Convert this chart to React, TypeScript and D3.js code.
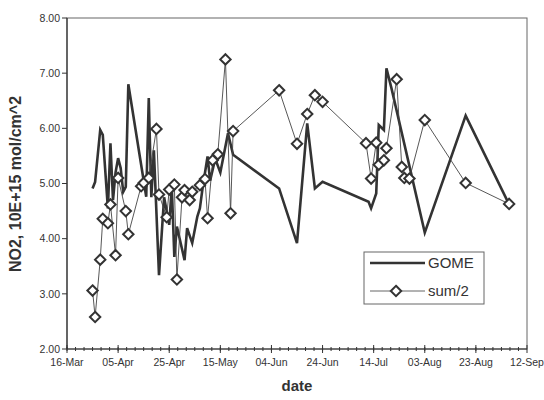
import React, { useEffect, useRef } from 'react'
import * as d3 from 'd3'

// values
const gomeDates = [
  '03-26', '03-27', '03-29', '03-30', '04-01', '04-02', '04-03', '04-04', '04-05', '04-06',
  '04-07', '04-08', '04-09', '04-16', '04-17', '04-18', '04-19', '04-21', '04-23', '04-25',
  '04-26', '04-27', '04-28', '05-01', '05-02', '05-04', '05-06', '05-07', '05-08', '05-10',
  '05-11', '05-13', '05-15', '05-18', '05-20', '06-07', '06-14', '06-18', '06-21', '06-24',
  '07-12', '07-13', '07-15', '07-16', '07-18', '07-19', '07-21', '08-03', '08-19', '09-05'
]
const gomeValues = [
  4.91, 5.03, 5.97, 5.88, 4.55, 5.73, 4.70, 5.20, 5.46, 5.28,
  4.85, 4.94, 6.80, 4.76, 6.55, 4.75, 5.60, 3.34, 4.75, 4.25,
  4.95, 3.67, 4.22, 3.61, 4.19, 3.92, 4.40, 4.55, 4.90, 5.49,
  5.05, 5.45, 5.20, 5.91, 5.52, 4.91, 3.92, 6.09, 4.91, 5.03,
  4.67, 4.55, 4.82, 6.06, 5.97, 7.09, 6.72, 4.11, 6.23, 4.62
]

const sumDates = [
  '03-26', '03-27', '03-29', '03-30', '04-01', '04-02', '04-04', '04-05', '04-08', '04-09',
  '04-14', '04-15', '04-17', '04-20', '04-21', '04-24', '04-25', '04-27', '04-28', '04-30',
  '05-01', '05-03', '05-04', '05-07', '05-09', '05-10', '05-12', '05-14', '05-17', '05-19',
  '05-20', '06-07', '06-14', '06-18', '06-21', '06-24', '07-11', '07-13', '07-15', '07-16',
  '07-18', '07-19', '07-23', '07-25', '07-26', '07-28', '08-03', '08-19', '09-05'
]
const sumValues = [
  3.06, 2.58, 3.62, 4.36, 4.28, 4.62, 3.70, 5.10, 4.50, 4.08,
  4.95, 5.01, 5.10, 5.99, 4.80, 4.39, 4.89, 4.98, 3.26, 4.75,
  4.88, 4.70, 4.85, 4.97, 5.08, 4.37, 5.42, 5.53, 7.25, 4.46,
  5.95, 6.69, 5.72, 6.26, 6.60, 6.48, 5.73, 5.09, 5.74, 5.34,
  5.42, 5.64, 6.89, 5.30, 5.10, 5.09, 6.15, 5.01, 4.63
]

const yTicks = [2, 3, 4, 5, 6, 7, 8]
const seriesNames = ['GOME', 'sum/2']

const YEAR = '2003'
const parse = d3.timeParse('%Y-%m-%d')

const App = () => {
  const svgRef = useRef(null)

  useEffect(() => {
    document.body.style.margin = '0'
    draw()
  }, [])

  const draw = () => {
    const svg = d3.select(svgRef.current)
    svg.selectAll('*').remove()
    const font = 'Liberation Sans, Arial, sans-serif'

    const start = parse(`${YEAR}-03-16`)
    const end = d3.timeDay.offset(start, 180)

    const x = d3.scaleTime().domain([start, end]).range([67, 527])
    const y = d3.scaleLinear().domain([2, 8]).range([349, 18])

    const gome = gomeDates.map((d, i) => ({ date: parse(`${YEAR}-${d}`), value: gomeValues[i] }))
    const sum = sumDates.map((d, i) => ({ date: parse(`${YEAR}-${d}`), value: sumValues[i] }))

    // plot frame
    svg.append('rect')
      .attr('x', 67).attr('y', 18)
      .attr('width', 460).attr('height', 331)
      .attr('fill', 'none')
      .attr('stroke', '#666')
      .attr('stroke-width', 1)

    const majorTicks = d3.range(0, 181, 20).map(d => d3.timeDay.offset(start, d))
    const minorTicks = d3.range(0, 54).map(i => d3.timeHour.offset(start, i * 80))

    // x axis
    const xg = svg.append('g')
    xg.append('line')
      .attr('x1', 67).attr('x2', 527)
      .attr('y1', 349).attr('y2', 349)
      .attr('stroke', '#333').attr('stroke-width', 1.2)
    xg.selectAll('.minor')
      .data(minorTicks)
      .enter().append('line')
      .attr('x1', d => x(d)).attr('x2', d => x(d))
      .attr('y1', 347).attr('y2', 351)
      .attr('stroke', '#333')
    xg.selectAll('.major')
      .data(majorTicks)
      .enter().append('line')
      .attr('x1', d => x(d)).attr('x2', d => x(d))
      .attr('y1', 345).attr('y2', 353)
      .attr('stroke', '#333')
    xg.selectAll('text')
      .data(majorTicks)
      .enter().append('text')
      .attr('x', d => x(d))
      .attr('y', 366)
      .attr('text-anchor', 'middle')
      .attr('font-family', font)
      .attr('font-size', 10.5)
      .attr('fill', '#333')
      .text(d => d3.timeFormat('%d-%b')(d))

    // y axis
    const yg = svg.append('g')
    yg.append('line')
      .attr('x1', 67).attr('x2', 67)
      .attr('y1', 18).attr('y2', 349)
      .attr('stroke', '#333').attr('stroke-width', 1.2)
    yg.selectAll('line.tick')
      .data(yTicks)
      .enter().append('line')
      .attr('class', 'tick')
      .attr('x1', 62).attr('x2', 67)
      .attr('y1', d => y(d)).attr('y2', d => y(d))
      .attr('stroke', '#333')
    yg.selectAll('text')
      .data(yTicks)
      .enter().append('text')
      .attr('x', 60)
      .attr('y', d => y(d))
      .attr('dy', '0.35em')
      .attr('text-anchor', 'end')
      .attr('font-family', font)
      .attr('font-size', 10.5)
      .attr('fill', '#333')
      .text(d => d3.format('.2f')(d))

    // axis titles
    svg.append('text')
      .attr('x', 297)
      .attr('y', 391)
      .attr('text-anchor', 'middle')
      .attr('font-family', font)
      .attr('font-weight', 'bold')
      .attr('font-size', 15)
      .attr('fill', '#333')
      .text('date')
    svg.append('text')
      .attr('transform', 'translate(21,184) rotate(-90)')
      .attr('text-anchor', 'middle')
      .attr('font-family', font)
      .attr('font-weight', 'bold')
      .attr('font-size', 16)
      .attr('fill', '#333')
      .text('NO2, 10E+15 mol/cm^2')

    const line = d3.line()
      .x(d => x(d.date))
      .y(d => y(d.value))

    svg.append('path')
      .datum(gome)
      .attr('d', line)
      .attr('fill', 'none')
      .attr('stroke', '#333')
      .attr('stroke-width', 2.6)
      .attr('stroke-linejoin', 'miter')

    svg.append('path')
      .datum(sum)
      .attr('d', line)
      .attr('fill', 'none')
      .attr('stroke', '#444')
      .attr('stroke-width', 0.9)

    const diamond = 'M0,-5.2L5.2,0L0,5.2L-5.2,0Z'
    svg.append('g')
      .selectAll('path')
      .data(sum)
      .enter().append('path')
      .attr('transform', d => `translate(${x(d.date)},${y(d.value)})`)
      .attr('d', diamond)
      .attr('fill', '#fff')
      .attr('stroke', '#333')
      .attr('stroke-width', 2)

    // legend
    const legend = svg.append('g')
    legend.append('rect')
      .attr('x', 364).attr('y', 252)
      .attr('width', 120).attr('height', 52)
      .attr('fill', '#fff')
      .attr('stroke', '#666')
    const rows = legend.selectAll('g')
      .data(seriesNames)
      .enter().append('g')
      .attr('transform', (d, i) => `translate(0, ${263 + i * 28})`)
    rows.append('line')
      .attr('x1', 370).attr('x2', 425)
      .attr('stroke', d => d === 'GOME' ? '#333' : '#555')
      .attr('stroke-width', d => d === 'GOME' ? 2.6 : 0.9)
    rows.filter(d => d !== 'GOME').append('path')
      .attr('transform', 'translate(396,0)')
      .attr('d', diamond)
      .attr('fill', '#fff')
      .attr('stroke', '#333')
      .attr('stroke-width', 2)
    rows.append('text')
      .attr('x', 428)
      .attr('dy', '0.36em')
      .attr('font-family', font)
      .attr('font-size', 15)
      .attr('fill', '#333')
      .text(d => d)
  }

  return (
    <div>
      <svg ref={svgRef} width={544} height={400} style={{ display: 'block', background: '#fff' }}></svg>
    </div>
  )
}

export default App
